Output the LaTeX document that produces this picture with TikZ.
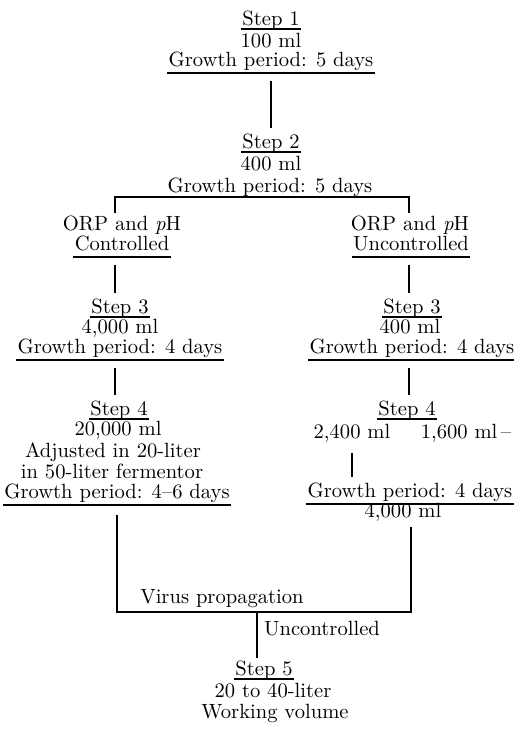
\documentclass[tikz,border=0pt]{standalone}
\begin{document}
\begin{tikzpicture}[x=0.5pt,y=-0.5pt,
  txt/.style={anchor=base, inner sep=0.6pt, text height=7.5pt, text depth=2.6pt,
    font=\fontsize{10.3}{12}\selectfont},
  steplbl/.style={txt, text depth=1.2pt},
  uline/.style={line width=0.7pt},
  link/.style={line width=0.7pt, shorten <=4pt, shorten >=1.5pt}]
\useasboundingbox (0,0) rectangle (514,730);
% step 1 and step 2
\node[steplbl] (s1) at (271,25){Step 1};
\node[txt] (s1vol) at (271,47){100 ml};
\node[txt] (s1gp) at (271,66){Growth period: 5 days};
\draw[uline](s1.south west) -- (s1.south east);
\draw[uline](s1gp.south west) -- (s1gp.south east);
\node[steplbl] (s2) at (271,148){Step 2};
\node[txt] (s2vol) at (271,170){400 ml};
\node[txt] (s2gp) at (270,192){Growth period: 5 days};
\draw[uline](s2.south west) -- (s2.south east);
\draw[link](s1gp) -- (s2);
\coordinate (brL) at (115,197);
\coordinate (brR) at (409,197);
% controlled branch
\node[txt] (ctlA) at (122,230){ORP and \textit{p}H};
\node[txt] (ctlB) at (122,250){Controlled};
\draw[uline](ctlB.south west) -- (ctlB.south east);
\node[steplbl] (l3) at (120,313){Step 3};
\node[txt] (l3vol) at (120,333){4,000 ml};
\node[txt] (l3gp) at (120,353){Growth period: 4 days};
\draw[uline](l3.south west) -- (l3.south east);
\draw[uline](l3gp.south west) -- (l3gp.south east);
\node[steplbl] (l4) at (119,415){Step 4};
\node[txt] (l4vol) at (118,435){20,000 ml};
\node[txt] (l4adj) at (113,457){Adjusted in 20-liter};
\node[txt] (l4ferm) at (112,478){in 50-liter fermentor};
\node[txt] (l4gp) at (117,498){Growth period: 4--6 days};
\draw[uline](l4.south west) -- (l4.south east);
\draw[uline](l4gp.south west) -- (l4gp.south east);
\draw[link](ctlB.south -| brL) -- (l3.north -| brL);
\draw[link](l3gp.south -| brL) -- (l4.north -| brL);
% uncontrolled branch
\node[txt] (ucA) at (410,230){ORP and \textit{p}H};
\node[txt] (ucB) at (411,250){Uncontrolled};
\draw[uline](ucB.south west) -- (ucB.south east);
\node[steplbl] (r3) at (412,313){Step 3};
\node[txt] (r3vol) at (410,333){400 ml};
\node[txt] (r3gp) at (412,353){Growth period: 4 days};
\draw[uline](r3.south west) -- (r3.south east);
\draw[uline](r3gp.south west) -- (r3gp.south east);
\node[steplbl] (r4) at (407,415){Step 4};
\node[txt] (r4a) at (352,438){2,400 ml};
\node[txt] (r4b) at (466,438){1,600 ml\,--};
\node[txt] (r4gp) at (410,497){Growth period: 4 days};
\node[txt] (r4vol) at (403,517){4,000 ml};
\draw[uline](r4.south west) -- (r4.south east);
\draw[uline](r4gp.south west) -- (r4gp.south east);
\draw[link](ucB.south -| brR) -- (r3.north -| brR);
\draw[link](r3gp.south -| brR) -- (r4.north -| brR);
\draw[link](r4a) -- (r4gp.north -| r4a);
\draw[uline](brL |- ctlA.north) -- (brL) -- (brR) -- (brR |- ucA.north);
% virus propagation and step 5
\coordinate (jL) at (117,612);
\coordinate (jR) at (411,612);
\coordinate (jM) at (257,612);
\node[txt] (virus) at (222,603){Virus propagation};
\draw[uline, shorten <=5pt, shorten >=1.8pt](l4gp.south -| jL) -- (jL) -- (jR) -- (r4vol.south -| jR);
\node[txt] (unc) at (322,635){Uncontrolled};
\node[steplbl] (s5) at (264,675){Step 5};
\node[txt] (s5vol) at (273,697){20 to 40-liter};
\node[txt] (s5wv) at (275,718){Working volume};
\draw[uline](s5.south west) -- (s5.south east);
\draw[uline](jM) -- (s5.north -| jM);
\end{tikzpicture}
\end{document}
